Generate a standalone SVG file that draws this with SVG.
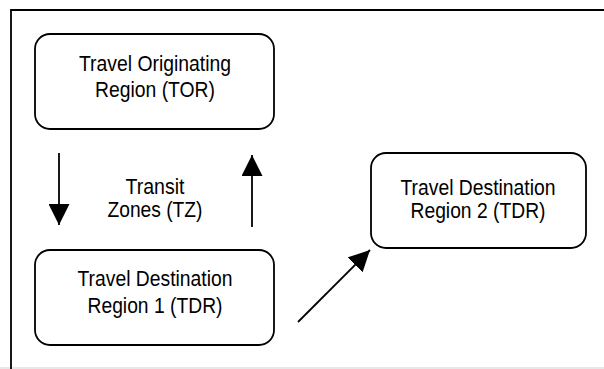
<svg xmlns="http://www.w3.org/2000/svg" width="604" height="369" viewBox="0 0 604 369">
<style>
.box{fill:#fff;stroke:#000;stroke-width:1.8}
.t{font-family:"Liberation Sans",Arial,sans-serif;font-size:22px;fill:#000;text-anchor:middle}
.c{stroke:#000;stroke-width:1.8;fill:none}
</style>
<defs>
<marker id="ah" viewBox="0 0 20 20" refX="20" refY="10" markerWidth="21" markerHeight="21" markerUnits="userSpaceOnUse" orient="auto">
<path d="M0,0 L20,10 L0,20 Z" fill="#000"/>
</marker>
</defs>
<rect width="604" height="369" fill="#fff"/>
<g id="frame">
<line x1="0" y1="368" x2="604" y2="368" stroke="#e0e0e0" stroke-width="1.5"/>
<path d="M11,369 V10 H604" fill="none" stroke="#000" stroke-width="1.8"/>
</g>
<g id="tor">
<rect class="box" x="35" y="34" width="239" height="95" rx="15"/>
<text class="t" x="155" y="71" textLength="152" lengthAdjust="spacingAndGlyphs">Travel Originating</text>
<text class="t" x="155" y="97" textLength="120" lengthAdjust="spacingAndGlyphs">Region (TOR)</text>
</g>
<g id="tz">
<text class="t" x="155" y="194" textLength="59" lengthAdjust="spacingAndGlyphs">Transit</text>
<text class="t" x="155" y="217" textLength="95" lengthAdjust="spacingAndGlyphs">Zones (TZ)</text>
</g>
<g id="tdr2">
<rect class="box" x="371" y="153" width="215" height="95" rx="15"/>
<text class="t" x="478" y="195" textLength="155" lengthAdjust="spacingAndGlyphs">Travel Destination</text>
<text class="t" x="478" y="218" textLength="135" lengthAdjust="spacingAndGlyphs">Region 2 (TDR)</text>
</g>
<g id="tdr1">
<rect class="box" x="35" y="250" width="239" height="95" rx="15"/>
<text class="t" x="155" y="286" textLength="155" lengthAdjust="spacingAndGlyphs">Travel Destination</text>
<text class="t" x="155" y="313" textLength="135" lengthAdjust="spacingAndGlyphs">Region 1 (TDR)</text>
</g>
<g id="connectors">
<line class="c" x1="59" y1="153" x2="59" y2="225" marker-end="url(#ah)"/>
<line class="c" x1="252" y1="227" x2="252" y2="155" marker-end="url(#ah)"/>
<line class="c" x1="298" y1="322" x2="370" y2="250" marker-end="url(#ah)"/>
</g>
</svg>
